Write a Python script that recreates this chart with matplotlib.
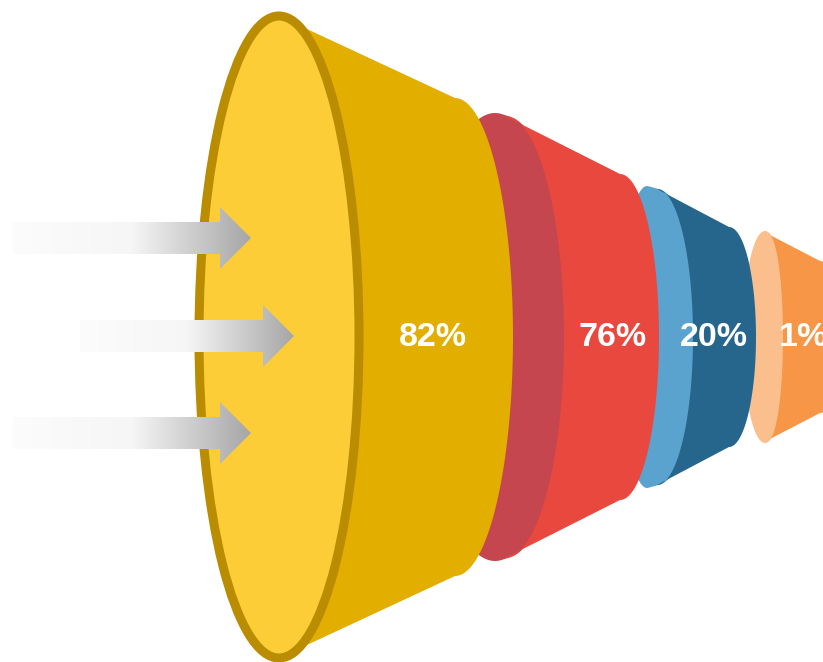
import numpy as np
import matplotlib
matplotlib.use("Agg")
import matplotlib.pyplot as plt
from matplotlib.patches import Ellipse, Polygon
from matplotlib.path import Path
from matplotlib.patches import PathPatch
from matplotlib.colors import LinearSegmentedColormap

# funnel stage labels
labels = ["82%", "76%", "20%", "1%"]
face_colors = ["#FDCD38", "#C5464F", "#5BA3CF", "#FBBF8E"]
body_colors = ["#E2AE00", "#E9483F", "#27668C", "#F79646"]

# layout of each stage (pixels): face cx, face a, face h,
# body arc cx, body arc b, back cx, back c, back h, label x
cy = 337
layout = [
    (279, 80, 321, 279, 80, 455, 58, 239, 433),
    (495, 70, 224, 505, 59, 620, 39, 163, 613),
    (647, 26, 151, 657, 36, 729, 27, 110, 714),
    (765, 22, 106, 768, 15, 820, 20, 76, 804),
]

# arrows: (x start, tip x, center y)
arrows = [(13, 251, 238), (80, 294, 336), (13, 251, 433)]

fig = plt.figure(figsize=(8.23, 6.62), dpi=100)
ax = fig.add_axes([0, 0, 1, 1])
ax.set_xlim(0, 823)
ax.set_ylim(662, 0)
ax.axis("off")


def half_arc(x, a, h, t0, t1, n=90):
    t = np.linspace(t0, t1, n)
    return list(zip(x + a * np.cos(t), cy + h * np.sin(t)))


def hull(pts):
    pts = sorted(set(pts))

    def cross(o, a, b):
        return (a[0] - o[0]) * (b[1] - o[1]) - (a[1] - o[1]) * (b[0] - o[0])

    lower, upper = [], []
    for p in pts:
        while len(lower) >= 2 and cross(lower[-2], lower[-1], p) <= 0:
            lower.pop()
        lower.append(p)
    for p in reversed(pts):
        while len(upper) >= 2 and cross(upper[-2], upper[-1], p) <= 0:
            upper.pop()
        upper.append(p)
    return lower[:-1] + upper[:-1]


def body_poly(fx, b, h, bx, c, hb):
    pts = [(fx, cy - h), (bx, cy - hb)]
    pts += half_arc(bx, c, hb, -np.pi / 2, np.pi / 2)
    pts += [(bx, cy + hb), (fx, cy + h)]
    pts += half_arc(fx, b, h, np.pi / 2, -np.pi / 2)
    return pts


# draw back stages first so front ones overlap them
for i in range(len(labels) - 1, -1, -1):
    fcx, fa, fh, bcx, bb, bx, c, hb, lx = layout[i]
    z = 10 - 2 * i
    if i > 0:
        # face shape reaches under the body arc so no gap shows
        bh = fh - 3
        pts = half_arc(fcx, fa, fh, 0, 2 * np.pi, 200)
        pts += half_arc(bcx, bb + 4, bh, 0, 2 * np.pi, 200)
        ax.add_patch(Polygon(hull(pts), closed=True, facecolor=face_colors[i],
                             edgecolor="none", zorder=z))
    else:
        bh = fh
    ax.add_patch(Polygon(body_poly(bcx, bb, bh, bx, c, hb), closed=True,
                         facecolor=body_colors[i], edgecolor="none",
                         zorder=z + 0.5))
    if i == 0:
        ax.add_patch(Ellipse((fcx, cy), 2 * fa, 2 * fh, facecolor=face_colors[i],
                             edgecolor="#BA8C00", linewidth=6.5, zorder=11))

cmap = LinearSegmentedColormap.from_list("g", ["#FCFCFC", "#F6F6F6", "#A6A6A6"])
for x0, tip, yc in arrows:
    hx = tip - 31
    verts = [(x0, yc - 16), (hx, yc - 16), (hx, yc - 31), (tip, yc),
             (hx, yc + 31), (hx, yc + 16), (x0, yc + 16), (x0, yc - 16)]
    patch = PathPatch(Path(verts, closed=True), facecolor="none", edgecolor="none")
    ax.add_patch(patch)
    grad = np.linspace(0, 1, 256).reshape(1, -1)
    im = ax.imshow(grad, cmap=cmap, extent=(x0, tip, yc + 31, yc - 31),
                   aspect="auto", zorder=12, interpolation="bilinear")
    im.set_clip_path(patch)

for i, lab in enumerate(labels):
    ax.text(layout[i][8], cy + 1, lab, color="white", fontsize=24.5,
            fontweight="bold", family="Liberation Sans",
            ha="center", va="center", zorder=20)

ax.set_xlim(0, 823)
ax.set_ylim(662, 0)
fig.savefig("out.png", dpi=100)
